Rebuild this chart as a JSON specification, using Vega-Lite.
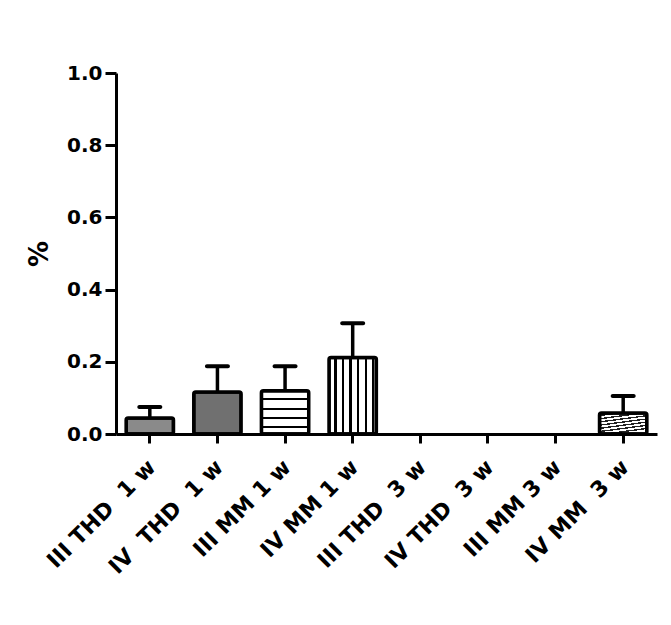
{
  "$schema": "https://vega.github.io/schema/vega-lite/v6.json",
  "autosize": "none",
  "width": 541,
  "height": 361,
  "padding": {"left": 116, "top": 73, "right": 14, "bottom": 191},
  "background": "white",
  "config": {
    "view": {"stroke": null},
    "font": "DejaVu Sans",
    "axis": {"domainColor": "black", "tickColor": "black", "labelColor": "black", "titleColor": "black", "grid": false, "labelFont": "DejaVu Sans", "titleFont": "DejaVu Sans"}
  },
  "data": {
    "values": [
      {"group": "III THD\u00a0 1 w", "mean": 0.044, "upper": 0.075},
      {"group": "IV\u00a0 THD\u00a0 1 w", "mean": 0.116, "upper": 0.188},
      {"group": "III MM 1 w", "mean": 0.12, "upper": 0.188},
      {"group": "IV MM 1 w", "mean": 0.212, "upper": 0.307},
      {"group": "III THD\u00a0 3 w", "mean": 0, "upper": 0},
      {"group": "IV THD\u00a0 3 w", "mean": 0, "upper": 0},
      {"group": "III MM 3 w", "mean": 0, "upper": 0},
      {"group": "IV MM\u00a0 3 w", "mean": 0.058, "upper": 0.105}
    ]
  },
  "encoding": {
    "x": {
      "field": "group", "type": "nominal", "sort": null,
      "scale": {
        "domain": ["III THD\u00a0 1 w", "IV\u00a0 THD\u00a0 1 w", "III MM 1 w", "IV MM 1 w", "III THD\u00a0 3 w", "IV THD\u00a0 3 w", "III MM 3 w", "IV MM\u00a0 3 w"],
        "paddingInner": 0.3, "paddingOuter": 0.15
      },
      "axis": {
        "title": null, "labelAngle": -45, "labelFontSize": 22, "labelFontWeight": "bold",
        "tickSize": 9, "tickWidth": 3, "domainWidth": 3, "labelPadding": 13, "labelOffset": -5
      }
    },
    "y": {
      "field": "mean", "type": "quantitative", "title": "%",
      "scale": {"domain": [0, 1], "nice": false},
      "axis": {
        "values": [0, 0.2, 0.4, 0.6, 0.8, 1.0], "format": ".1f",
        "labelFontSize": 20, "labelFontWeight": "bold", "tickSize": 11, "tickWidth": 3,
        "domainWidth": 3, "labelPadding": 3,
        "titleFontSize": 26, "titleFontWeight": "bold", "titlePadding": 14
      }
    }
  },
  "layer": [
    {
      "transform": [{"filter": "datum.mean > 0"}],
      "mark": {"type": "rule", "stroke": "black", "strokeWidth": 3.5},
      "encoding": {"y2": {"field": "upper"}}
    },
    {
      "transform": [{"filter": "datum.mean > 0"}],
      "mark": {"type": "tick", "fill": "black", "filled": true, "opacity": 1, "thickness": 4, "size": 25, "cornerRadius": 2},
      "encoding": {"y": {"field": "upper", "type": "quantitative", "title": "%"}}
    },
    {
      "transform": [{"filter": "datum.group == 'III THD\u00a0 1 w'"}],
      "mark": {"type": "bar", "fill": "#8a8a8a", "stroke": "black", "strokeWidth": 3.5, "cornerRadius": 2}
    },
    {
      "transform": [{"filter": "datum.group == 'IV\u00a0 THD\u00a0 1 w'"}],
      "mark": {"type": "bar", "fill": "#707070", "stroke": "black", "strokeWidth": 3.5, "cornerRadius": 2}
    },
    {
      "transform": [{"filter": "datum.group == 'III MM 1 w'"}],
      "mark": {
        "type": "bar", "stroke": "black", "strokeWidth": 3.5, "cornerRadius": 2,
        "fill": {
          "gradient": "linear", "x1": 0, "y1": 0, "x2": 0, "y2": 1,
          "stops": [
            {"offset": 0, "color": "white"}, {"offset": 0.17, "color": "white"},
            {"offset": 0.17, "color": "black"}, {"offset": 0.22, "color": "black"},
            {"offset": 0.22, "color": "white"}, {"offset": 0.39, "color": "white"},
            {"offset": 0.39, "color": "black"}, {"offset": 0.44, "color": "black"},
            {"offset": 0.44, "color": "white"}, {"offset": 0.60, "color": "white"},
            {"offset": 0.60, "color": "black"}, {"offset": 0.65, "color": "black"},
            {"offset": 0.65, "color": "white"}, {"offset": 0.81, "color": "white"},
            {"offset": 0.81, "color": "black"}, {"offset": 0.86, "color": "black"},
            {"offset": 0.86, "color": "white"}, {"offset": 1, "color": "white"}
          ]
        }
      }
    },
    {
      "transform": [{"filter": "datum.group == 'IV MM 1 w'"}],
      "mark": {
        "type": "bar", "stroke": "black", "strokeWidth": 3.5, "cornerRadius": 2,
        "fill": {
          "gradient": "linear", "x1": 0, "y1": 0, "x2": 1, "y2": 0,
          "stops": [
            {"offset": 0, "color": "white"}, {"offset": 0.11, "color": "white"},
            {"offset": 0.11, "color": "black"}, {"offset": 0.16, "color": "black"},
            {"offset": 0.16, "color": "white"}, {"offset": 0.27, "color": "white"},
            {"offset": 0.27, "color": "black"}, {"offset": 0.32, "color": "black"},
            {"offset": 0.32, "color": "white"}, {"offset": 0.43, "color": "white"},
            {"offset": 0.43, "color": "black"}, {"offset": 0.48, "color": "black"},
            {"offset": 0.48, "color": "white"}, {"offset": 0.59, "color": "white"},
            {"offset": 0.59, "color": "black"}, {"offset": 0.64, "color": "black"},
            {"offset": 0.64, "color": "white"}, {"offset": 0.75, "color": "white"},
            {"offset": 0.75, "color": "black"}, {"offset": 0.80, "color": "black"},
            {"offset": 0.80, "color": "white"}, {"offset": 0.90, "color": "white"},
            {"offset": 0.90, "color": "black"}, {"offset": 0.95, "color": "black"},
            {"offset": 0.95, "color": "white"}, {"offset": 1, "color": "white"}
          ]
        }
      }
    },
    {
      "transform": [{"filter": "datum.group == 'IV MM\u00a0 3 w'"}],
      "mark": {
        "type": "bar", "stroke": "black", "strokeWidth": 3.5, "cornerRadius": 2,
        "fill": {
          "gradient": "linear", "x1": 0, "y1": 0, "x2": 0.3, "y2": 1,
          "stops": [
            {"offset": 0, "color": "white"}, {"offset": 0.08, "color": "white"},
            {"offset": 0.08, "color": "#222"}, {"offset": 0.14, "color": "#222"},
            {"offset": 0.14, "color": "white"}, {"offset": 0.22, "color": "white"},
            {"offset": 0.22, "color": "#222"}, {"offset": 0.28, "color": "#222"},
            {"offset": 0.28, "color": "white"}, {"offset": 0.36, "color": "white"},
            {"offset": 0.36, "color": "#222"}, {"offset": 0.42, "color": "#222"},
            {"offset": 0.42, "color": "white"}, {"offset": 0.50, "color": "white"},
            {"offset": 0.50, "color": "#222"}, {"offset": 0.56, "color": "#222"},
            {"offset": 0.56, "color": "white"}, {"offset": 0.64, "color": "white"},
            {"offset": 0.64, "color": "#222"}, {"offset": 0.70, "color": "#222"},
            {"offset": 0.70, "color": "white"}, {"offset": 0.78, "color": "white"},
            {"offset": 0.78, "color": "#222"}, {"offset": 0.84, "color": "#222"},
            {"offset": 0.84, "color": "white"}, {"offset": 0.92, "color": "white"},
            {"offset": 0.92, "color": "#222"}, {"offset": 0.98, "color": "#222"},
            {"offset": 0.98, "color": "white"}, {"offset": 1, "color": "white"}
          ]
        }
      }
    }
  ]
}
